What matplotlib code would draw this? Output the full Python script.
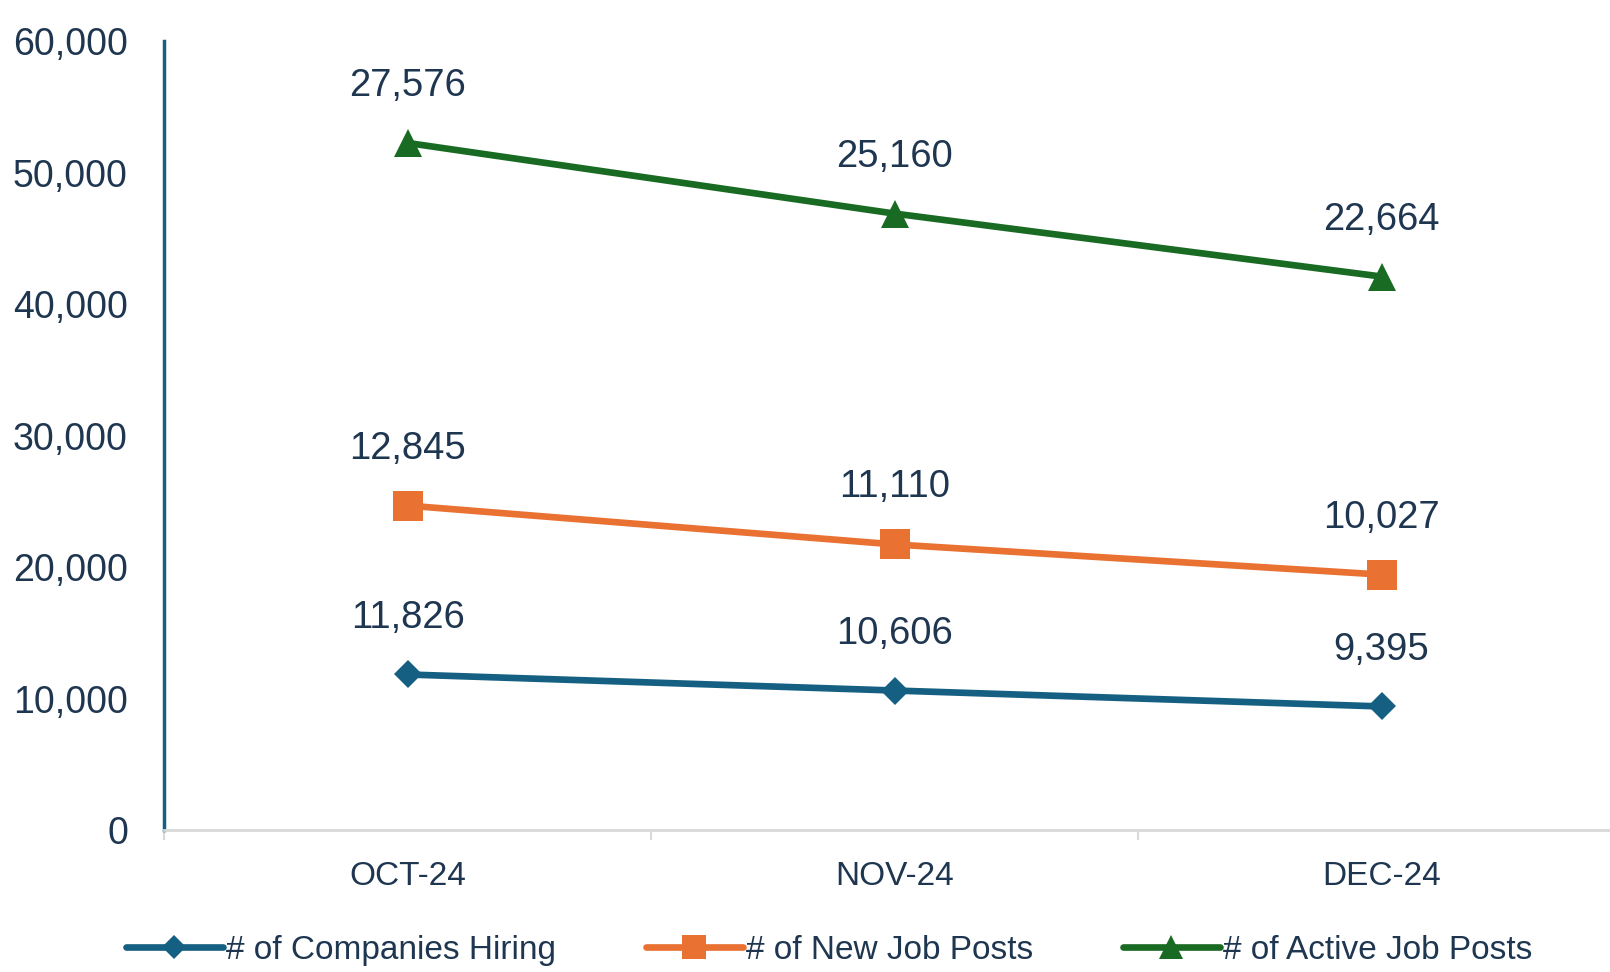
import matplotlib
matplotlib.use("Agg")
import matplotlib.pyplot as plt
import numpy as np

months = ["OCT-24", "NOV-24", "DEC-24"]
companies_hiring = [11826, 10606, 9395]
new_job_posts = [12845, 11110, 10027]
active_job_posts = [27576, 25160, 22664]
series_names = ["# of Companies Hiring", "# of New Job Posts", "# of Active Job Posts"]
y_ticks = [0, 10000, 20000, 30000, 40000, 50000, 60000]

colors = ["#156082", "#E97132", "#196B24"]
markers = ["D", "s", "^"]
msizes = [14, 21, 20]
text_col = "#1F3650"

plt.rcParams["font.family"] = ["Liberation Sans", "DejaVu Sans"]

fig = plt.figure(figsize=(16.1, 9.72), dpi=100)
ax = fig.add_axes([164 / 1610, 1 - 830 / 972, 1461 / 1610, (830 - 41) / 972])

x = np.arange(len(months))
# stacked lines: each series sits on top of the previous ones
stack = [np.array(companies_hiring), np.array(new_job_posts), np.array(active_job_posts)]
base = np.zeros(len(months))
for vals, name, c, m, ms in zip(stack, series_names, colors, markers, msizes):
    top = base + vals
    ax.plot(x, top, color=c, lw=4.8, marker=m, ms=ms, mec=c, mew=0, label=name,
            solid_capstyle="round", clip_on=False, zorder=3)
    for xi, yi, v in zip(x, top, vals):
        ax.annotate(f"{v:,}", (xi, yi), xytext=(0, 41), textcoords="offset points",
                    ha="center", va="center", fontsize=27.5, color=text_col)
    base = top

ax.set_xlim(-0.5, 2.5)
ax.set_ylim(0, 60000)
ax.set_yticks(y_ticks)
ax.set_yticklabels([f"{t:,}" for t in y_ticks], fontsize=27, color=text_col)
ax.tick_params(axis="y", length=0, pad=26)

ax.set_xticks(x)
ax.set_xticklabels(months, fontsize=24, color=text_col)
ax.set_xticks([-0.5, 0.5, 1.5, 2.5], minor=True)
ax.tick_params(axis="x", which="major", length=0, pad=22)
ax.tick_params(axis="x", which="minor", length=7, width=1.5, color="#D9D9D9")

for s in ["top", "right"]:
    ax.spines[s].set_visible(False)
ax.spines["left"].set_color("#156082")
ax.spines["left"].set_linewidth(2.5)
ax.spines["bottom"].set_color("#D9D9D9")
ax.spines["bottom"].set_linewidth(2)

fig.legend(loc="center", bbox_to_anchor=(0.515, 1 - 950 / 972), ncol=3, frameon=False,
           fontsize=24, handlelength=2.9, handletextpad=0.1, columnspacing=2.7,
           labelcolor=text_col, markerscale=0.85)

fig.savefig("out.png", dpi=100)
